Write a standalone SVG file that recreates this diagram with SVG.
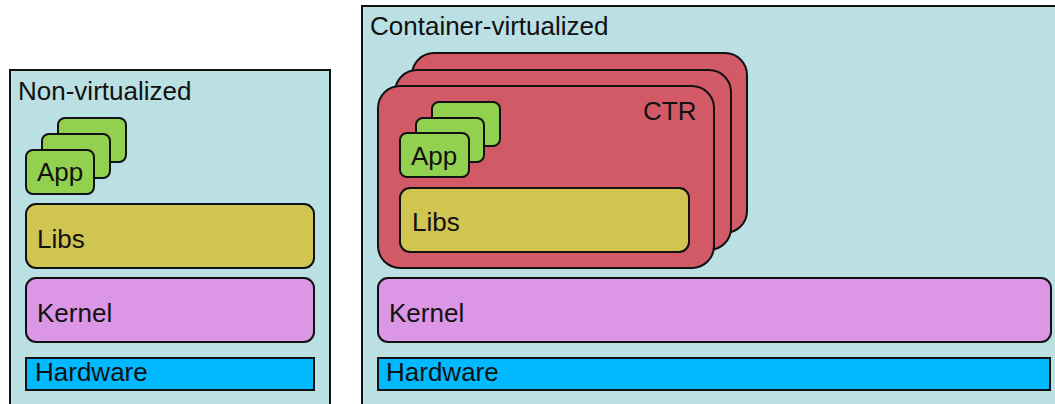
<svg xmlns="http://www.w3.org/2000/svg" width="1055" height="404" viewBox="0 0 1055 404">
  <style>
    .panel { fill: #bae0e3; stroke: #111; stroke-width: 2; }
    .app { fill: #92d150; stroke: #111; stroke-width: 2; }
    .libs { fill: #d0c550; stroke: #111; stroke-width: 2; }
    .kernel { fill: #dc96e6; stroke: #111; stroke-width: 2; }
    .hw { fill: #00b9ff; stroke: #111; stroke-width: 2; }
    .ctr { fill: #d25a67; stroke: #111; stroke-width: 2; }
    text { font-family: "Liberation Sans", Arial, sans-serif; font-size: 26px; fill: #111; }
  </style>
  <rect width="1055" height="404" fill="#ffffff"/>

  <!-- Non-virtualized stack -->
  <g id="non-virtualized">
    <rect class="panel" x="10" y="70" width="320" height="345"/>
    <text x="18" y="100">Non-virtualized</text>
  </g>
  <g id="nv-apps">
    <rect class="app" x="58" y="118" width="68" height="44" rx="7"/>
    <rect class="app" x="42" y="134" width="68" height="44" rx="7"/>
    <rect class="app" x="26" y="150" width="68" height="44" rx="7"/>
    <text x="37" y="181">App</text>
  </g>
  <g id="nv-libs">
    <rect class="libs" x="26" y="204" width="288" height="64" rx="10"/>
    <text x="37" y="248">Libs</text>
  </g>
  <g id="nv-kernel">
    <rect class="kernel" x="26" y="278" width="288" height="64" rx="10"/>
    <text x="37" y="322">Kernel</text>
  </g>
  <g id="nv-hardware">
    <rect class="hw" x="26" y="358" width="288" height="32"/>
    <text x="35" y="381">Hardware</text>
  </g>

  <!-- Container-virtualized stack -->
  <g id="container-virtualized">
    <rect class="panel" x="362" y="6" width="710" height="410"/>
    <text x="370" y="35">Container-virtualized</text>
  </g>
  <g id="containers">
    <rect class="ctr" x="412" y="53" width="335" height="180" rx="22"/>
    <rect class="ctr" x="395" y="70" width="336" height="180" rx="22"/>
    <rect class="ctr" x="378" y="86" width="336" height="182" rx="22"/>
    <text x="643" y="120">CTR</text>
  </g>
  <g id="cv-apps">
    <rect class="app" x="432" y="102" width="68" height="44" rx="7"/>
    <rect class="app" x="416" y="118" width="68" height="44" rx="7"/>
    <rect class="app" x="400" y="133" width="69" height="44" rx="7"/>
    <text x="411" y="165">App</text>
  </g>
  <g id="cv-libs">
    <rect class="libs" x="400" y="188" width="289" height="64" rx="10"/>
    <text x="412" y="231">Libs</text>
  </g>
  <g id="cv-kernel">
    <rect class="kernel" x="378" y="278" width="673" height="64" rx="10"/>
    <text x="389" y="322">Kernel</text>
  </g>
  <g id="cv-hardware">
    <rect class="hw" x="378" y="358" width="672" height="32"/>
    <text x="386" y="381">Hardware</text>
  </g>

  <g id="connectors"/>
</svg>
